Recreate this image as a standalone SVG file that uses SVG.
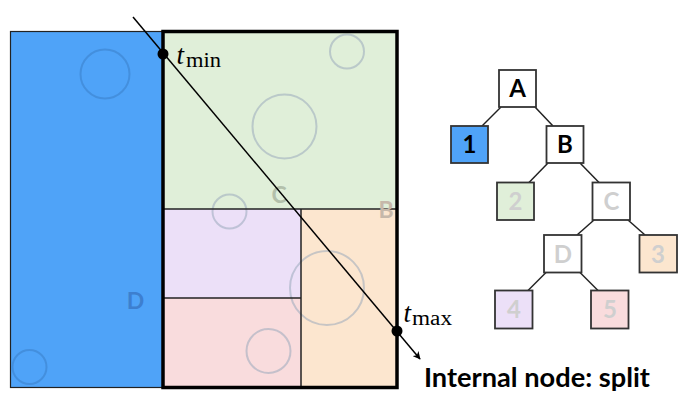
<svg xmlns="http://www.w3.org/2000/svg" width="691" height="402" viewBox="0 0 691 402">
<style>
.circ{fill:none;stroke:#9aaabb;stroke-opacity:0.55;stroke-width:2}
.thin{stroke:#222;stroke-width:1.5;fill:none}
.tbox{stroke:#333;stroke-width:1.8}
.tl{font-family:Lato,"Open Sans",sans-serif;font-weight:700;font-size:24px;text-anchor:middle}
.dark{fill:#000}
.light{fill:#cfcfcf}
.edge{stroke:#222;stroke-width:1.5}
.rl{font-family:Lato,"Open Sans",sans-serif;font-weight:700;font-size:23px;text-anchor:middle}
.serif{font-family:"Liberation Serif","DejaVu Serif",serif}
</style>
<defs>
<marker id="ah" viewBox="0 0 10 10" refX="9" refY="5" markerWidth="8" markerHeight="8" orient="auto" markerUnits="userSpaceOnUse">
<path d="M0,0 L10,5 L0,10 L3,5 z" fill="#000"/>
</marker>
</defs>
<rect width="691" height="402" fill="#fff"/>
<g id="regions">
<rect x="10.5" y="31.5" width="152.5" height="356" fill="#4fa3f8" stroke="#222" stroke-width="1.2"/>
<rect x="163" y="31.5" width="234" height="177.5" fill="#e0efd9"/>
<rect x="163" y="209" width="138" height="89" fill="#ece0f8"/>
<rect x="163" y="298" width="138" height="90" fill="#f9dcdd"/>
<rect x="301" y="209" width="96" height="179" fill="#fce6cf"/>
</g>
<g id="circles">
<circle class="circ" cx="105" cy="74" r="24.5" style="stroke:#3a80c8;stroke-opacity:0.55"/>
<circle class="circ" cx="29.5" cy="367" r="17" style="stroke:#3a80c8;stroke-opacity:0.55"/>
<circle class="circ" cx="347" cy="51.5" r="17"/>
<circle class="circ" cx="284.5" cy="126.5" r="32"/>
<circle class="circ" cx="229.5" cy="211.5" r="17"/>
<circle class="circ" cx="327" cy="288" r="37"/>
<circle class="circ" cx="268.5" cy="351" r="22"/>
</g>
<g id="splits">
<line class="thin" x1="163" y1="209" x2="397" y2="209"/>
<line class="thin" x1="163" y1="298" x2="301" y2="298"/>
<line class="thin" x1="301" y1="209" x2="301" y2="388"/>
<rect x="163" y="31.5" width="234" height="356" fill="none" stroke="#000" stroke-width="3.5"/>
</g>
<g id="region-labels">
<text class="rl" x="135.5" y="309" fill="#3d7fcf">D</text>
<text class="rl" x="279" y="203" fill="#b3c0ab">C</text>
<text class="rl" x="386" y="218" fill="#c6b8aa">B</text>
</g>
<g id="ray">
<line x1="133" y1="17" x2="420" y2="359" stroke="#000" stroke-width="1.5" marker-end="url(#ah)"/>
<circle cx="163" cy="54" r="5.5" fill="#000"/>
<circle cx="397" cy="331" r="5.5" fill="#000"/>
<text class="serif" x="176.5" y="64" font-size="27" font-style="italic">t</text>
<text class="serif" x="186" y="67" font-size="20" textLength="35" lengthAdjust="spacingAndGlyphs">min</text>
<text class="serif" x="403.5" y="321.5" font-size="27" font-style="italic">t</text>
<text class="serif" x="412" y="324.5" font-size="20" textLength="40" lengthAdjust="spacingAndGlyphs">max</text>
</g>
<g id="tree-edges">
<line class="edge" x1="501" y1="107" x2="482" y2="126"/>
<line class="edge" x1="535" y1="107" x2="553" y2="126"/>
<line class="edge" x1="548" y1="163" x2="529" y2="182.5"/>
<line class="edge" x1="580" y1="163" x2="599" y2="182.5"/>
<line class="edge" x1="594" y1="220" x2="577" y2="235"/>
<line class="edge" x1="628" y1="220" x2="645" y2="235"/>
<line class="edge" x1="546" y1="272.5" x2="528" y2="290.5"/>
<line class="edge" x1="580" y1="272.5" x2="598" y2="290.5"/>
</g>
<g id="node-A"><rect class="tbox" x="499" y="70" width="37" height="37" fill="#fff"/><text class="tl dark" x="517.5" y="97">A</text></g>
<g id="node-1"><rect class="tbox" x="451" y="126" width="37" height="37" fill="#4fa3f8"/><text class="tl dark" x="469.5" y="153">1</text></g>
<g id="node-B"><rect class="tbox" x="546.5" y="126" width="37" height="37" fill="#fff"/><text class="tl dark" x="565" y="153">B</text></g>
<g id="node-2"><rect class="tbox" x="497" y="182.5" width="37" height="37.5" fill="#e0efd9"/><text class="tl light" x="515.5" y="210">2</text></g>
<g id="node-C"><rect class="tbox" x="592.5" y="182.5" width="37.5" height="37.5" fill="#fff"/><text class="tl light" x="611.5" y="210">C</text></g>
<g id="node-D"><rect class="tbox" x="544" y="235" width="37.5" height="37.5" fill="#fff"/><text class="tl light" x="563" y="262.5">D</text></g>
<g id="node-3"><rect class="tbox" x="639.5" y="235" width="37.5" height="37.5" fill="#fce6cf"/><text class="tl light" x="658" y="262.5">3</text></g>
<g id="node-4"><rect class="tbox" x="495" y="290.5" width="37.5" height="38" fill="#ece0f8"/><text class="tl light" x="514" y="318">4</text></g>
<g id="node-5"><rect class="tbox" x="591" y="290.5" width="37.5" height="38" fill="#f9dcdd"/><text class="tl light" x="610" y="318">5</text></g>
<text x="424" y="386.5" font-family="Lato,'Open Sans',sans-serif" font-weight="700" font-size="26" textLength="226" lengthAdjust="spacingAndGlyphs" fill="#000">Internal node: split</text>
</svg>
